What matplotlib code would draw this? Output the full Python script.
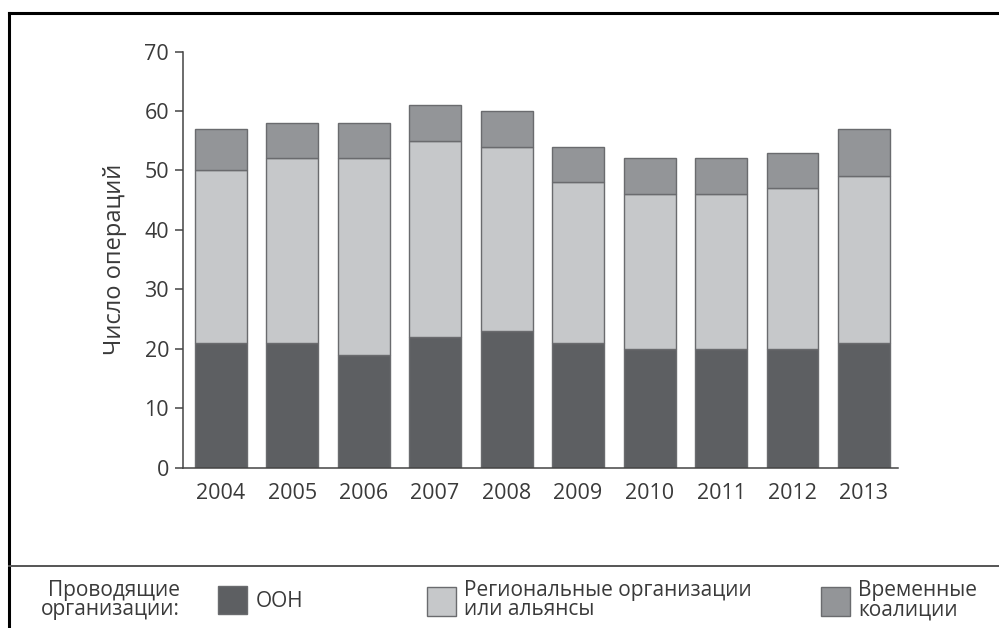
import matplotlib
matplotlib.use("Agg")
import matplotlib.pyplot as plt
from matplotlib.lines import Line2D
import numpy as np

plt.rcParams['font.family'] = ['Open Sans', 'DejaVu Sans']

years = ["2004", "2005", "2006", "2007", "2008", "2009", "2010", "2011", "2012", "2013"]
un = [21, 21, 19, 22, 23, 21, 20, 20, 20, 21]
regional = [29, 31, 33, 33, 31, 27, 26, 26, 27, 28]
coalitions = [7, 6, 6, 6, 6, 6, 6, 6, 6, 8]

series_names = ["ООН", "Региональные организации\nили альянсы", "Временные\nкоалиции"]
colors = ["#5d5f62", "#c6c8ca", "#939598"]
edge = "#6a6b6e"
text_color = "#3a3a3a"

fig = plt.figure(figsize=(9.99, 6.28), dpi=100)
ax = fig.add_axes([183/999, 1-467.5/628, (898-183)/999, (467.5-51.5)/628])

x = np.arange(len(years))
w = 0.727
un_a = np.array(un)
reg_a = np.array(regional)
co_a = np.array(coalitions)
b1 = ax.bar(x, un_a, w, color=colors[0], edgecolor=edge, linewidth=1.0)
b2 = ax.bar(x, reg_a, w, bottom=un_a, color=colors[1], edgecolor=edge, linewidth=1.0)
b3 = ax.bar(x, co_a, w, bottom=un_a + reg_a, color=colors[2], edgecolor=edge, linewidth=1.0)

ax.set_xlim(-0.527, 9.476)
ax.set_ylim(0, 70)
ax.set_yticks(range(0, 71, 10))
ax.set_xticks(x)
ax.set_xticklabels(years)
for s in ["top", "right"]:
    ax.spines[s].set_visible(False)
for s in ["left", "bottom"]:
    ax.spines[s].set_color("#444444")
    ax.spines[s].set_linewidth(1.1)
ax.tick_params(axis="y", length=6, width=1.1, color="#444444", pad=4,
               labelsize=15.5, labelcolor=text_color)
ax.tick_params(axis="x", length=0, pad=11.5, labelsize=15.5, labelcolor=text_color)
ax.set_ylabel("Число операций", fontsize=17, color=text_color)
ax.yaxis.set_label_coords(-0.078, 0.5)

# frame lines
fig.add_artist(Line2D([9/999, 1], [1-13/628, 1-13/628], color="black", lw=2.2, transform=fig.transFigure))
fig.add_artist(Line2D([9/999, 9/999], [0, 1-13/628], color="black", lw=2.2, transform=fig.transFigure))
fig.add_artist(Line2D([9/999, 1], [1-566/628, 1-566/628], color="#555555", lw=1.4, transform=fig.transFigure))

# legend
fig.text(180/999, 1-600/628, "Проводящие\nорганизации:", ha="right", va="center",
         fontsize=15, color=text_color, linespacing=0.9)
ypos = 1-600/628
for handle, name, xp in zip([b1, b2, b3], series_names, [218, 427, 821]):
    leg = fig.legend([handle], [name], loc="center left", bbox_to_anchor=(xp/999, ypos),
                     frameon=False, fontsize=15, handlelength=1.4, handleheight=1.75,
                     handletextpad=0.4, borderpad=0, borderaxespad=0,
                     labelcolor=text_color)
    for t in leg.get_texts():
        t.set_linespacing(0.9)

fig.savefig("out.png", dpi=100)
